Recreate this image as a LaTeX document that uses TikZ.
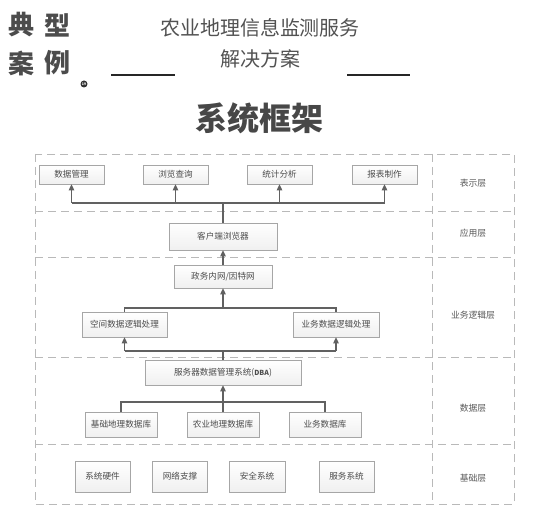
\documentclass[tikz,border=0pt]{standalone}
\usepackage{fontspec}
\setmainfont{Noto Sans CJK SC}
\usetikzlibrary{arrows.meta,shadows}
\begin{document}
\begin{tikzpicture}[x=1pt,y=-1pt,
  box/.style={draw=gray!70, top color=white, bottom color=gray!12, line width=0.7pt,
    inner sep=0pt, font=\fontsize{8.6}{9}\selectfont, text=black!70,
    drop shadow={shadow xshift=0.8pt,shadow yshift=-0.8pt,opacity=0.25}},
  conn/.style={draw=black!62, line width=1.1pt},
  arr/.style={conn, -{Triangle[length=6pt,width=5.5pt]}},
  layerline/.style={draw=gray!55, line width=0.9pt, dash pattern=on 8pt off 5pt},
  layerlab/.style={font=\fontsize{8.8}{9}\selectfont, text=black!65},
  hdr/.style={font=\fontsize{26}{26}\selectfont\bfseries, text=black!70, inner sep=0pt},
  ttl/.style={font=\fontsize{20}{20}\selectfont, text=black!68, inner sep=0pt},
  uline/.style={draw=black!85, line width=1.6pt}]
\useasboundingbox (0,0) rectangle (547,516);
\fill[white] (0,0) rectangle (547,516);

% header
\node[hdr] (h1) at (22,25) {典};
\node[hdr] (h2) at (58,25) {型};
\node[hdr] (h3) at (22,63) {案};
\node[hdr] (h4) at (58,63) {例};
\node[circle, fill=black!80, inner sep=0pt, minimum size=7pt, text=white,
  font=\fontsize{3.5}{4}\selectfont\bfseries] (num) at (84,84) {19};
\node[ttl] (t1) at (260,28) {农业地理信息监测服务};
\node[ttl] (t2) at (260,59) {解决方案};
\coordinate (l1a) at (111,75); \coordinate (l1b) at (175,75);
\coordinate (l2a) at (347,75); \coordinate (l2b) at (410,75);
\draw[uline] (l1a) -- (l1b);
\draw[uline] (l2a) -- (l2b);
\node[font=\fontsize{32}{32}\selectfont\bfseries, text=black!72, inner sep=0pt] (main) at (259,118) {系统框架};

% layer frames
\coordinate (fa) at (35,154); \coordinate (fb) at (514,504);
\draw[layerline] (fa) rectangle (fb);
\coordinate (v1) at (432,154); \coordinate (v2) at (432,504);
\draw[layerline] (v1) -- (v2);
\foreach \yy/\nm in {211/d1,257/d2,357/d3,444/d4}{
  \coordinate (\nm a) at (35,\yy); \coordinate (\nm b) at (514,\yy);
  \draw[layerline] (\nm a) -- (\nm b);
}

% layer labels
\node[layerlab] (lab1) at (473,183) {表示层};
\node[layerlab] (lab2) at (473,233) {应用层};
\node[layerlab] (lab3) at (473,315) {业务逻辑层};
\node[layerlab] (lab4) at (473,408) {数据层};
\node[layerlab] (lab5) at (473,478) {基础层};

% presentation layer
\node[box, minimum width=65pt, minimum height=19pt] (p1) at (71.5,174.5) {数据管理};
\node[box, minimum width=65pt, minimum height=19pt] (p2) at (175.5,174.5) {浏览查询};
\node[box, minimum width=65pt, minimum height=19pt] (p3) at (279.5,174.5) {统计分析};
\node[box, minimum width=65pt, minimum height=19pt] (p4) at (384.5,174.5) {报表制作};

% application layer
\node[box, minimum width=108pt, minimum height=27pt] (cb) at (223,236.5) {客户端浏览器};

% business logic layer
\node[box, minimum width=98pt, minimum height=23pt] (net) at (223,276.5) {政务内网/因特网};
\node[box, minimum width=85pt, minimum height=25pt] (sp) at (124.5,324.5) {空间数据逻辑处理};
\node[box, minimum width=86pt, minimum height=25pt] (bz) at (336,324.5) {业务数据逻辑处理};

% data layer
\node[box, minimum width=156pt, minimum height=25pt] (dba) at (223,372.5) {服务器数据管理系统(\textbf{\fontsize{7}{8}\selectfont DBA})};
\node[box, minimum width=72pt, minimum height=25pt] (db1) at (121,424.5) {基础地理数据库};
\node[box, minimum width=72pt, minimum height=25pt] (db2) at (223,424.5) {农业地理数据库};
\node[box, minimum width=72pt, minimum height=25pt] (db3) at (325,424.5) {业务数据库};

% base layer
\node[box, minimum width=55pt, minimum height=31pt] (s1) at (102.5,476.5) {系统硬件};
\node[box, minimum width=55pt, minimum height=31pt] (s2) at (180,476.5) {网络支撑};
\node[box, minimum width=56pt, minimum height=31pt] (s3) at (257,476.5) {安全系统};
\node[box, minimum width=55pt, minimum height=31pt] (s4) at (346.5,476.5) {服务系统};

% connectors: browser -> presentation
\coordinate (bus1) at (0,203);
\draw[conn] (cb.north) -- (cb.north |- bus1);
\draw[conn] (p1.south |- bus1) -- (p4.south |- bus1);
\foreach \n in {p1,p2,p3,p4}{ \draw[arr] (\n.south |- bus1) -- (\n.south); }

% network -> browser
\draw[arr] (net.north) -- (cb.south);

% logic -> network
\coordinate (bus2) at (0,308);
\draw[conn] (sp.north) -- (sp.north |- bus2) -- (bz.north |- bus2) -- (bz.north);
\draw[arr] (net.south |- bus2) -- (net.south);

% dba -> logic
\coordinate (bus3) at (0,351);
\draw[conn] (dba.north) -- (dba.north |- bus3);
\draw[conn] (sp.south |- bus3) -- (bz.south |- bus3);
\draw[arr] (sp.south |- bus3) -- (sp.south);
\draw[arr] (bz.south |- bus3) -- (bz.south);

% databases -> dba
\coordinate (bus4) at (0,402);
\draw[conn] (db1.north) -- (db1.north |- bus4) -- (db3.north |- bus4) -- (db3.north);
\draw[arr] (db2.north) -- (dba.south);
\end{tikzpicture}
\end{document}
